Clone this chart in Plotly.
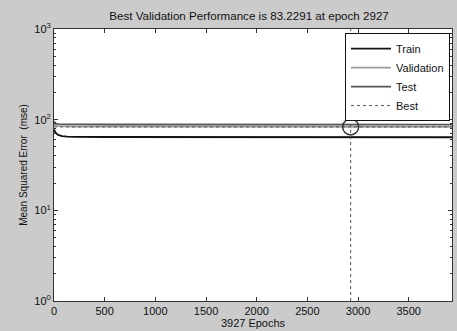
import plotly.graph_objects as go

# Data
epochs = [0, 15, 40, 80, 130, 200, 500, 1000, 1500, 2000, 2500, 2927, 3500, 3927]
train_mse = [78, 72, 68, 66, 65, 64.6, 64.4, 64.3, 64.2, 64.2, 64.1, 64.1, 64.0, 64.0]
val_mse = [90, 86, 85, 84.5, 84.2, 84.0, 83.8, 83.6, 83.5, 83.4, 83.3, 83.23, 83.3, 83.3]
test_mse = [96, 91, 89.5, 89, 88.8, 88.6, 88.4, 88.3, 88.2, 88.1, 88.0, 88.0, 88.0, 88.0]
best_epoch = 2927
best_val = 83.2291
total_epochs = 3927
x_ticks = [0, 500, 1000, 1500, 2000, 2500, 3000, 3500]
y_tickvals = [1, 10, 100, 1000]
y_ticktext = ["10<sup>0</sup>", "10<sup>1</sup>", "10<sup>2</sup>", "10<sup>3</sup>"]
y_minor = [m * d for d in (1, 10, 100) for m in range(2, 10)]

fig = go.Figure()
fig.add_trace(go.Scatter(x=epochs, y=train_mse, mode="lines", name="Train",
                         line=dict(color="#111111", width=1.8)))
fig.add_trace(go.Scatter(x=epochs, y=val_mse, mode="lines", name="Validation",
                         line=dict(color="#9a9a9a", width=1.8)))
fig.add_trace(go.Scatter(x=epochs, y=test_mse, mode="lines", name="Test",
                         line=dict(color="#555555", width=1.8)))
fig.add_trace(go.Scatter(x=[0, total_epochs], y=[best_val, best_val], mode="lines", name="Best",
                         line=dict(color="#555555", width=1, dash="dot")))
fig.add_trace(go.Scatter(x=[best_epoch, best_epoch], y=[1, 1000], mode="lines", showlegend=False,
                         line=dict(color="#555555", width=1, dash="dot")))
fig.add_trace(go.Scatter(x=[best_epoch], y=[best_val], mode="markers", showlegend=False,
                         marker=dict(symbol="circle-open", size=16, color="#333333",
                                     line=dict(width=1.5, color="#333333"))))

fam = "Liberation Sans, Arial, sans-serif"
fig.update_layout(
    width=457, height=331,
    margin=dict(l=54, r=5, t=29, b=30),
    paper_bgcolor="#cbcbcb", plot_bgcolor="white",
    font=dict(family=fam, size=11, color="#111111"),
    title=dict(text="Best Validation Performance is 83.2291 at epoch 2927",
               x=0.545, xanchor="center", y=0.952, yanchor="middle",
               font=dict(family=fam, size=11.6, color="#111111")),
    showlegend=True,
    legend=dict(x=0.995, xanchor="right", y=0.985, yanchor="top",
                bgcolor="white", bordercolor="#111111", borderwidth=1,
                font=dict(family=fam, size=11),
                tracegroupgap=0, itemwidth=40),
)
fig.update_xaxes(range=[0, total_epochs], tickvals=x_ticks, ticks="inside", ticklen=4,
                 showgrid=False, zeroline=False, showline=True, linecolor="#333333",
                 mirror="ticks", tickcolor="#333333", automargin=False,
                 title=dict(text="3927 Epochs", standoff=0, font=dict(size=11)))
fig.update_yaxes(type="log", range=[0, 3], tickvals=y_tickvals, ticktext=y_ticktext,
                 ticks="inside", ticklen=4, showgrid=False, zeroline=False, showline=True,
                 linecolor="#333333", mirror="ticks", tickcolor="#333333", automargin=False,
                 minor=dict(tickvals=y_minor, ticks="inside", ticklen=2, tickcolor="#333333",
                            showgrid=False),
                 title=dict(text="Mean Squared Error  (mse)", standoff=4, font=dict(size=10)))

fig.write_html("out.html", config={"displayModeBar": False},
               post_script="document.body.style.margin='0';document.body.style.padding='0';")
